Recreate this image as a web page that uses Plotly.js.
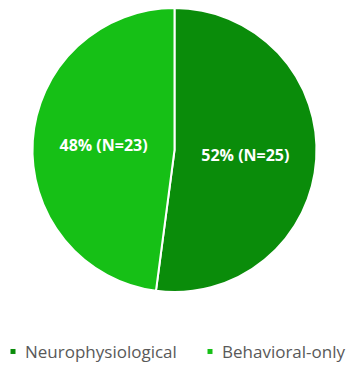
<!DOCTYPE html>
<html>
<head>
<meta charset="utf-8">
<script src="https://cdn.plot.ly/plotly-3.0.1.min.js"></script>
<style>
  html, body { margin: 0; padding: 0; background: #ffffff; }
  #chart { width: 349px; height: 365px; }
</style>
</head>
<body>
<div id="chart"></div>
<script>
  // Study groups and participant counts
  const groups = ["Neurophysiological", "Behavioral-only"];
  const counts = [25, 23];
  const sliceColors = ["#0a8c0a", "#16c016"];

  const trace = {
    type: "pie",
    labels: groups,
    values: counts,
    sort: false,
    direction: "clockwise",
    rotation: 0,
    marker: { colors: sliceColors, line: { color: "#ffffff", width: 2 } },
    texttemplate: "%{percent:.0%} (N=%{value})",
    textposition: "inside",
    insidetextorientation: "horizontal",
    textfont: { family: "Open Sans, Arial, sans-serif", size: 16, color: "#ffffff", weight: "bold" },
    hoverinfo: "label+value+percent"
  };

  const layout = {
    width: 349,
    height: 365,
    margin: { l: 0, r: 0, t: 8, b: 73, autoexpand: false },
    paper_bgcolor: "#ffffff",
    showlegend: true,
    legend: {
      orientation: "h",
      x: 0,
      xanchor: "left",
      y: -0.255,
      yanchor: "middle",
      entrywidth: 150,
      entrywidthmode: "pixels",
      font: { family: "Open Sans, Arial, sans-serif", size: 17, color: "#595959" },
      itemwidth: 30
    }
  };

  Plotly.newPlot("chart", [trace], layout, { displayModeBar: false, staticPlot: true }).then(function (gd) {
    // Let legend entries draw past the legend's own box
    gd.querySelectorAll(".legend [clip-path]").forEach(function (el) {
      el.removeAttribute("clip-path");
    });
    // Small square legend swatches placed close to their labels,
    // second entry set a fixed distance after the first
    const items = gd.querySelectorAll(".legend .traces");
    items.forEach(function (item) {
      const pts = item.querySelector(".legendpoints");
      if (pts) pts.setAttribute("transform", "translate(3,0) scale(0.5)");
      const txt = item.querySelector(".legendtext");
      if (txt) txt.setAttribute("x", "25");
    });
    if (items.length > 1) {
      const m = /translate\(\s*([-\d.]+)[ ,]+([-\d.]+)/.exec(items[0].getAttribute("transform") || "");
      if (m) {
        const x0 = parseFloat(m[1]), y0 = parseFloat(m[2]);
        items[1].setAttribute("transform", "translate(" + (x0 + 197) + "," + y0 + ")");
      }
    }
  });
</script>
</body>
</html>
